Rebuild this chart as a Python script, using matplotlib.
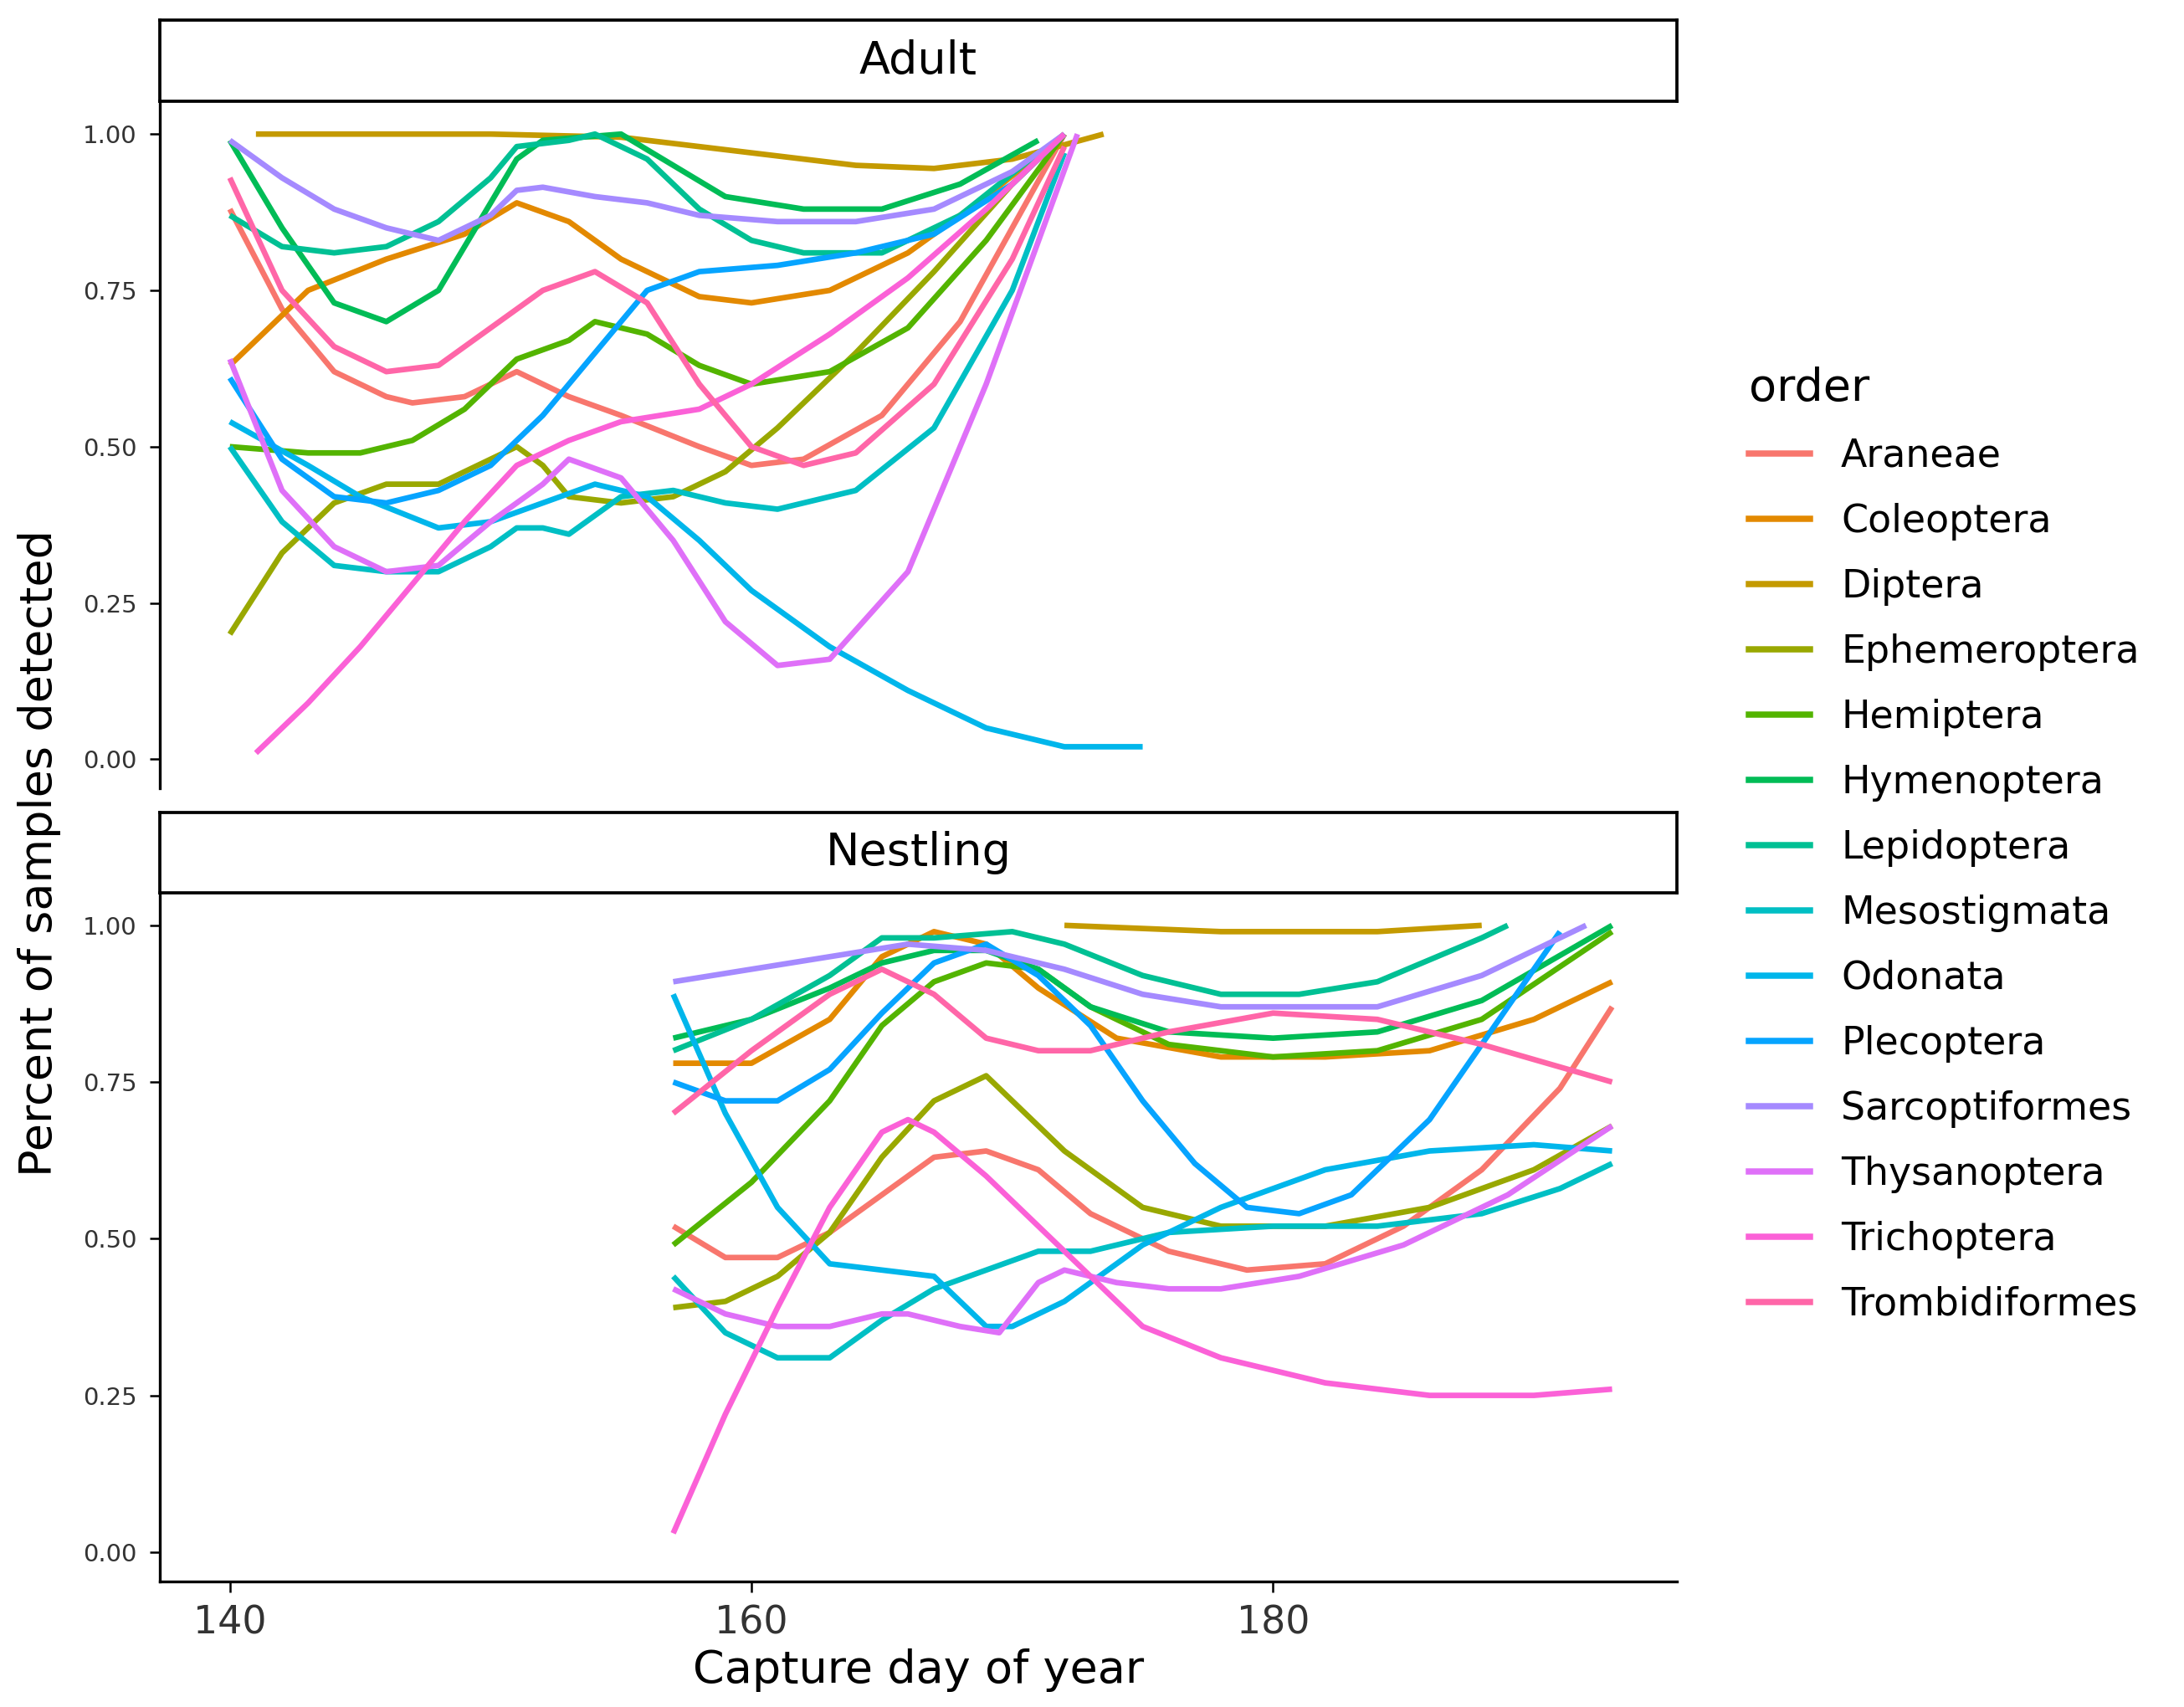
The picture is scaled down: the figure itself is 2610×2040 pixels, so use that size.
import matplotlib
matplotlib.use("Agg")
import matplotlib.pyplot as plt
from matplotlib.lines import Line2D
from matplotlib.patches import Rectangle

orders = ["Araneae", "Coleoptera", "Diptera", "Ephemeroptera", "Hemiptera", "Hymenoptera",
          "Lepidoptera", "Mesostigmata", "Odonata", "Plecoptera", "Sarcoptiformes",
          "Thysanoptera", "Trichoptera", "Trombidiformes"]
colors = ["#F8766D", "#E38900", "#C49A00", "#99A800", "#53B400", "#00BC56", "#00C094",
          "#00BFC4", "#00B6EB", "#06A4FF", "#A58AFF", "#DF70F8", "#FB61D7", "#FF66A8"]

# (day, proportion)
adult = {
    "Araneae": [(140, .88), (142, .72), (144, .62), (146, .58), (147, .57), (149, .58), (151, .62), (153, .58), (155, .55), (158, .50), (160, .47), (162, .48), (165, .55), (168, .70), (172, 1.0)],
    "Coleoptera": [(140, .63), (143, .75), (146, .80), (149, .84), (151, .89), (153, .86), (155, .80), (158, .74), (160, .73), (163, .75), (166, .81), (169, .90), (172, 1.0)],
    "Diptera": [(141, 1.0), (150, 1.0), (155, .995), (160, .97), (164, .95), (167, .945), (170, .96), (173.5, 1.0)],
    "Ephemeroptera": [(140, .20), (142, .33), (144, .41), (146, .44), (148, .44), (150, .48), (151, .50), (152, .47), (153, .42), (155, .41), (157, .42), (159, .46), (161, .53), (164, .65), (167, .78), (170, .92), (172, 1.0)],
    "Hemiptera": [(140, .50), (143, .49), (145, .49), (147, .51), (149, .56), (151, .64), (153, .67), (154, .70), (156, .68), (158, .63), (160, .60), (163, .62), (166, .69), (169, .83), (172, 1.0)],
    "Hymenoptera": [(140, .99), (142, .85), (144, .73), (146, .70), (148, .75), (150, .89), (151, .96), (152, .99), (155, 1.0), (157, .95), (159, .90), (162, .88), (165, .88), (168, .92), (171, .99)],
    "Lepidoptera": [(140, .87), (142, .82), (144, .81), (146, .82), (148, .86), (150, .93), (151, .98), (153, .99), (154, 1.0), (156, .96), (158, .88), (160, .83), (162, .81), (165, .81), (168, .87), (171, .97)],
    "Mesostigmata": [(140, .50), (142, .38), (144, .31), (146, .30), (148, .30), (150, .34), (151, .37), (152, .37), (153, .36), (155, .42), (157, .43), (159, .41), (161, .40), (164, .43), (167, .53), (170, .75), (172, .97)],
    "Odonata": [(140, .54), (143, .47), (145, .42), (148, .37), (150, .38), (152, .41), (154, .44), (156, .42), (158, .35), (160, .27), (163, .18), (166, .11), (169, .05), (172, .02), (175, .02)],
    "Plecoptera": [(140, .61), (142, .48), (144, .42), (146, .41), (148, .43), (150, .47), (152, .55), (154, .65), (156, .75), (158, .78), (161, .79), (164, .81), (167, .84), (170, .92), (172, 1.0)],
    "Sarcoptiformes": [(140, .99), (142, .93), (144, .88), (146, .85), (148, .83), (150, .87), (151, .91), (152, .915), (154, .90), (156, .89), (158, .87), (161, .86), (164, .86), (167, .88), (170, .94), (172, 1.0)],
    "Thysanoptera": [(140, .64), (142, .43), (144, .34), (146, .30), (148, .31), (150, .38), (152, .44), (153, .48), (155, .45), (157, .35), (159, .22), (161, .15), (163, .16), (166, .30), (169, .60), (172.5, 1.0)],
    "Trichoptera": [(141, .01), (143, .09), (145, .18), (147, .28), (149, .38), (151, .47), (153, .51), (155, .54), (158, .56), (160, .60), (163, .68), (166, .77), (169, .88), (172, 1.0)],
    "Trombidiformes": [(140, .93), (142, .75), (144, .66), (146, .62), (148, .63), (150, .69), (152, .75), (154, .78), (156, .73), (158, .60), (160, .50), (162, .47), (164, .49), (167, .60), (170, .80), (172, .98)],
}
nestling = {
    "Araneae": [(157, .52), (159, .47), (161, .47), (163, .51), (165, .57), (167, .63), (169, .64), (171, .61), (173, .54), (176, .48), (179, .45), (182, .46), (185, .52), (188, .61), (191, .74), (193, .87)],
    "Coleoptera": [(157, .78), (160, .78), (163, .85), (165, .95), (167, .99), (169, .97), (171, .90), (174, .82), (178, .79), (182, .79), (186, .80), (190, .85), (193, .91)],
    "Diptera": [(172, 1.0), (178, .99), (184, .99), (188, 1.0)],
    "Ephemeroptera": [(157, .39), (159, .40), (161, .44), (163, .51), (165, .63), (167, .72), (169, .76), (170, .72), (172, .64), (175, .55), (178, .52), (182, .52), (186, .55), (190, .61), (193, .68)],
    "Hemiptera": [(157, .49), (160, .59), (163, .72), (165, .84), (167, .91), (169, .94), (171, .93), (173, .87), (176, .81), (180, .79), (184, .80), (188, .85), (193, .99)],
    "Hymenoptera": [(157, .82), (160, .85), (163, .90), (165, .94), (167, .96), (169, .96), (171, .93), (173, .87), (176, .83), (180, .82), (184, .83), (188, .88), (193, 1.0)],
    "Lepidoptera": [(157, .80), (160, .85), (163, .92), (165, .98), (167, .98), (170, .99), (172, .97), (175, .92), (178, .89), (181, .89), (184, .91), (188, .98), (189, 1.0)],
    "Mesostigmata": [(157, .44), (159, .35), (161, .31), (163, .31), (165, .37), (167, .42), (169, .45), (171, .48), (173, .48), (176, .51), (180, .52), (184, .52), (188, .54), (191, .58), (193, .62)],
    "Odonata": [(157, .89), (159, .70), (161, .55), (163, .46), (165, .45), (167, .44), (168, .40), (169, .36), (170, .36), (172, .40), (175, .49), (178, .55), (182, .61), (186, .64), (190, .65), (193, .64)],
    "Plecoptera": [(157, .75), (159, .72), (161, .72), (163, .77), (165, .86), (167, .94), (169, .97), (171, .92), (173, .84), (175, .72), (177, .62), (179, .55), (181, .54), (183, .57), (186, .69), (189, .87), (191, .99)],
    "Sarcoptiformes": [(157, .91), (160, .93), (163, .95), (166, .97), (169, .96), (172, .93), (175, .89), (178, .87), (181, .87), (184, .87), (188, .92), (192, 1.0)],
    "Thysanoptera": [(157, .42), (159, .38), (161, .36), (163, .36), (165, .38), (166, .38), (168, .36), (169.5, .35), (171, .43), (172, .45), (174, .43), (176, .42), (178, .42), (181, .44), (185, .49), (189, .57), (193, .68)],
    "Trichoptera": [(157, .03), (159, .22), (161, .39), (163, .55), (165, .67), (166, .69), (167, .67), (169, .60), (171, .52), (173, .44), (175, .36), (178, .31), (182, .27), (186, .25), (190, .25), (193, .26)],
    "Trombidiformes": [(157, .70), (160, .80), (163, .89), (165, .93), (167, .89), (169, .82), (171, .80), (173, .80), (176, .83), (180, .86), (184, .85), (188, .81), (193, .75)],
}

fig = plt.figure(figsize=(8.7, 6.8), dpi=300)
L, R = 0.073, 0.768
panels = [("Adult", adult, 0.538, 0.9405, 0.988), ("Nestling", nestling, 0.0735, 0.477, 0.524)]
for i, (title, data, b, t, st) in enumerate(panels):
    ax = fig.add_axes([L, b, R - L, t - b])
    for name, col in zip(orders, colors):
        xs, ys = zip(*data[name])
        ax.plot(xs, ys, color=col, lw=1.6, solid_capstyle="butt")
    ax.set_xlim(137.3, 195.5)
    ax.set_ylim(-0.047, 1.052)
    ax.set_yticks([0, .25, .5, .75, 1.0])
    ax.set_yticklabels(["0.00", "0.25", "0.50", "0.75", "1.00"], fontsize=7, color="#333333")
    ax.set_xticks([140, 160, 180])
    ax.tick_params(length=3, width=0.6)
    for s in ["top", "right"]:
        ax.spines[s].set_visible(False)
    ax.spines["left"].set_linewidth(0.8)
    if i == 0:
        ax.spines["bottom"].set_visible(False)
        ax.tick_params(axis="x", bottom=False, labelbottom=False)
    else:
        ax.spines["bottom"].set_linewidth(0.8)
        ax.tick_params(axis="x", labelsize=11, labelcolor="#333333")
        ax.set_xlabel("Capture day of year", fontsize=13, labelpad=2)
    sax = fig.add_axes([L, t, R - L, st - t])
    sax.set_xticks([]); sax.set_yticks([])
    for s in sax.spines.values():
        s.set_linewidth(0.9)
    sax.text(0.5, 0.5, title, ha="center", va="center", fontsize=13, transform=sax.transAxes)

fig.text(0.018, 0.5, "Percent of samples detected", rotation=90, va="center", ha="center", fontsize=13)

handles = [Line2D([], [], color=c, lw=1.8) for c in colors]
fig.legend(handles, orders, loc="center left", bbox_to_anchor=(0.785, 0.505), frameon=False,
           fontsize=11, title="order", title_fontsize=13, handlelength=1.6, labelspacing=0.72,
           alignment="left")

fig.savefig("out.png", dpi=300)
